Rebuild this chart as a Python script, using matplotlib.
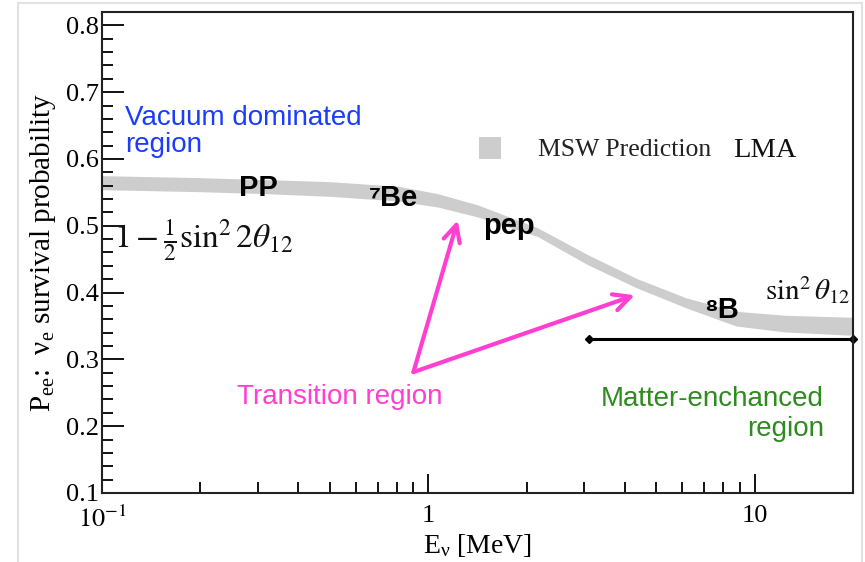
import matplotlib
matplotlib.use('Agg')
import numpy as np
import matplotlib.pyplot as plt
from matplotlib.patches import Rectangle
from matplotlib.ticker import FixedLocator, NullFormatter, LogLocator

# MSW LMA prediction band
energy = [0.1, 0.2, 0.32, 0.5, 0.81, 1.07, 1.42, 2.16, 3.07, 4.35, 6.17, 8.76, 12.4, 20.0]
p_low = [0.554, 0.551, 0.548, 0.544, 0.537, 0.528, 0.513, 0.484, 0.442, 0.407, 0.377, 0.350, 0.341, 0.336]
p_high = [0.575, 0.572, 0.569, 0.566, 0.559, 0.548, 0.531, 0.497, 0.457, 0.421, 0.392, 0.372, 0.366, 0.363]

# matter-enhanced region bar
bar_e = [3.1, 20.0]
bar_p = [0.33, 0.33]

y_ticks = [0.1, 0.2, 0.3, 0.4, 0.5, 0.6, 0.7, 0.8]
x_ticks = [0.1, 1, 10]
x_labels = ['$10^{-1}$', '1', '10']

plt.rcParams['mathtext.fontset'] = 'stix'
plt.rcParams['font.family'] = ['Liberation Serif', 'DejaVu Serif']
serif = 'Liberation Serif'
sans = ['Liberation Sans', 'DejaVu Sans']
pink = '#ff3fd2'

fig = plt.figure(figsize=(8.65, 5.62), dpi=100)
fig.patches.append(Rectangle((18 / 865, -0.1), 844 / 865, 1.1 - 3 / 562, transform=fig.transFigure,
                             fill=False, edgecolor='#e2e2e2', lw=1.5))
ax = fig.add_axes([0.1179, 0.1228, 0.8682, 0.8559])

ax.fill_between(energy, p_low, p_high, color='#cdcdcd', lw=0)
ax.plot(bar_e, bar_p, color='black', lw=2.2, marker='D', ms=4, clip_on=False)

ax.set_xscale('log')
ax.set_xlim(0.1, 20)
ax.set_ylim(0.1, 0.82)

ax.xaxis.set_major_locator(FixedLocator(x_ticks))
ax.set_xticklabels(x_labels, fontfamily=serif, fontsize=19)
ax.xaxis.set_minor_locator(LogLocator(base=10, subs=np.arange(2, 10)))
ax.xaxis.set_minor_formatter(NullFormatter())
ax.set_yticks(y_ticks)
ax.set_yticklabels(['%.1f' % v for v in y_ticks], fontfamily=serif, fontsize=19)
ax.set_yticks(np.arange(0.1, 0.82, 0.02), minor=True)

ax.tick_params(which='major', direction='in', length=16, width=1.3, top=False, right=False, pad=2)
ax.tick_params(which='minor', direction='in', length=8, width=1.3, top=False, right=False)
ax.tick_params(axis='x', which='major', length=14, pad=9)
for s in ax.spines.values():
    s.set_linewidth(1.5)
    s.set_color('#222222')

ax.set_xlabel(r'$\mathregular{E_ν}$ [MeV]', fontfamily=serif, fontsize=20, labelpad=0)
ax.set_ylabel(r'$\mathregular{P_{ee}}$:  $\mathregular{ν_e}$ survival probability', fontfamily=serif,
              fontsize=21, labelpad=6)

# legend-like labels
ax.scatter([1.55], [0.617], marker='s', s=230, color='#cdcdcd', lw=0)
ax.text(2.16, 0.613, 'MSW Prediction', fontfamily=serif, fontsize=18.5, va='center', color='#222222')
ax.text(8.6, 0.613, 'LMA', fontfamily=serif, fontsize=20.5, va='center', color='#111111')

# region labels
ax.text(0.118, 0.641, 'Vacuum dominated\nregion', color='#1a3cff', fontfamily=sans, fontsize=20,
        va='center', linespacing=1.05)
ax.text(0.536, 0.243, 'Transition region', color=pink, fontfamily=sans,
        fontsize=20, ha='center', va='center')
ax.text(16.3, 0.218, 'Matter-enchanced\nregion', color='#2e8b1e', fontfamily=sans, fontsize=20,
        ha='right', va='center', linespacing=1.2)

# source labels
ax.text(0.302, 0.556, 'PP', fontfamily=sans, fontweight='bold', fontsize=21, ha='center', va='center')
ax.text(0.783, 0.541, '\u2077Be', fontfamily=sans, fontweight='bold', fontsize=21,
        ha='center', va='center')
ax.text(1.76, 0.500, 'pep', fontfamily=sans, fontweight='bold', fontsize=21, ha='center', va='center')
ax.text(7.94, 0.374, '\u2078B', fontfamily=sans, fontweight='bold', fontsize=21,
        ha='center', va='center')

# formulas
ax.text(0.109, 0.478, r'$1-\frac{1}{2}\sin^2 2\theta_{12}$', fontsize=24, va='center', color='#111111')
ax.text(14.5, 0.403, r'$\sin^2\theta_{12}$', fontsize=21, ha='center', va='center', color='#111111')

# transition arrows
for tip in [(1.23, 0.508), (4.29, 0.396)]:
    ax.annotate('', xy=tip, xytext=(0.90, 0.281),
                arrowprops=dict(arrowstyle='->', color=pink, lw=3, mutation_scale=30,
                                shrinkA=0, shrinkB=0))

fig.savefig('out.png', dpi=100)
